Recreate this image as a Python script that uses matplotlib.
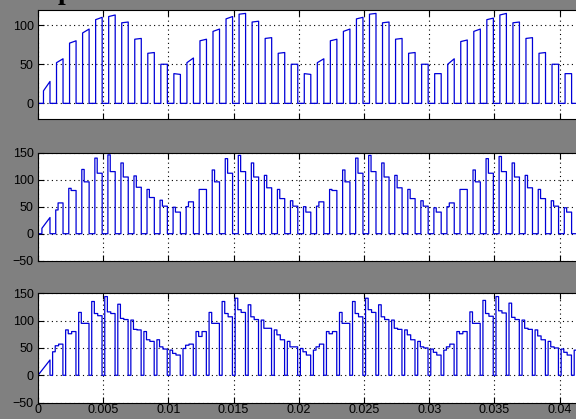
"""Three scope traces of a PWM output (top: flat pulses, middle/bottom: stepped pulses)."""

import matplotlib

matplotlib.use("Agg")
import matplotlib.pyplot as plt
import numpy as np

plt.rcParams["font.family"] = ["Liberation Sans", "DejaVu Sans"]

# switching slots (1 ms each), slot 0 is the start-up transient
slots = list(range(1, 42))

# top trace: pulse level at start and end of each pulse, slots 1..41
top_a = [52, 77, 90, 107, 111, 103, 82, 64, 50,
         38, 52, 80, 92, 108, 114, 104, 83, 64, 50,
         38, 52, 80, 92, 108, 114, 103, 82, 64, 50,
         38, 50, 79, 92, 107, 113, 103, 83, 64, 50,
         38, 52]
top_b = [57, 80, 95, 110, 113, 104, 83, 65, 50,
         37, 58, 82, 95, 111, 115, 105, 84, 65, 50,
         37, 57, 82, 95, 110, 115, 104, 83, 65, 50,
         38, 57, 81, 95, 109, 115, 104, 84, 65, 50,
         38, 57]
top_t0 = [0.0, 0.42, 0.42, 0.92, 0.92]
top_v0 = [0, 0, 16, 28, 0]

# middle trace: first level, then level after the step
mid_h1 = [44, 84, 119, 140, 146, 131, 107, 82, 62,
          49, 50, 82, 118, 139, 145, 131, 108, 82, 61,
          50, 51, 82, 118, 140, 145, 131, 108, 82, 61,
          48, 50, 82, 118, 139, 143, 131, 108, 82, 61,
          48, 50]
mid_h2 = [57, 80, 96, 112, 115, 105, 86, 67, 51,
          40, 59, 82, 96, 112, 115, 105, 85, 65, 51,
          40, 59, 80, 96, 112, 115, 105, 85, 65, 51,
          40, 57, 82, 96, 112, 115, 105, 85, 65, 51,
          40, 57]
mid_t0 = [0.0, 0.3, 0.3, 0.92, 0.92]
mid_v0 = [0, 0, 10, 30, 0]

# bottom trace: three levels inside each pulse
bot_h1 = [43, 83, 115, 135, 144, 130, 101, 80, 65,
          46, 49, 80, 115, 135, 141, 129, 101, 83, 62,
          49, 46, 80, 115, 135, 141, 129, 101, 83, 62,
          48, 46, 80, 116, 137, 144, 132, 101, 83, 62,
          48, 46]
bot_h2 = [54, 76, 95, 113, 116, 104, 84, 65, 52,
          40, 55, 71, 95, 113, 120, 107, 86, 74, 52,
          43, 52, 76, 95, 113, 120, 107, 86, 74, 52,
          42, 52, 76, 95, 113, 118, 106, 86, 72, 52,
          42, 52]
bot_h3 = [57, 80, 95, 109, 113, 102, 83, 62, 48,
          37, 57, 80, 95, 107, 115, 102, 86, 65, 52,
          37, 57, 80, 95, 107, 115, 102, 84, 65, 50,
          37, 57, 80, 95, 108, 114, 102, 84, 65, 50,
          37, 57]
bot_t0 = [0.0, 0.92, 0.92]
bot_v0 = [0, 28, 0]

x_ticks = [0, 0.005, 0.01, 0.015, 0.02, 0.025, 0.03, 0.035, 0.04]
x_labels = ["0", "0.005", "0.01", "0.015", "0.02", "0.025", "0.03", "0.035", "0.04"]
top_yticks = [0, 50, 100]
low_yticks = [-50, 0, 50, 100, 150]


def stepped(t0, v0, edges, levels):
    """edges: offsets in a slot (ms); levels: per segment (start, end) values."""
    t, v = list(t0), list(v0)
    for i, k in enumerate(slots):
        t.append(k + edges[0])
        v.append(0)
        for j, (a, b) in enumerate(levels[i]):
            t += [k + edges[j], k + edges[j + 1]]
            v += [a, b]
        t.append(k + edges[-1])
        v.append(0)
    return np.array(t) / 1000.0, np.array(v)


t_top, v_top = stepped(top_t0, top_v0, [0.42, 0.92],
                       [[(a, b)] for a, b in zip(top_a, top_b)])
t_mid, v_mid = stepped(mid_t0, mid_v0, [0.36, 0.54, 0.92],
                       [[(a, a), (b, b)] for a, b in zip(mid_h1, mid_h2)])
t_bot, v_bot = stepped(bot_t0, bot_v0, [0.12, 0.32, 0.58, 0.91],
                       [[(a, a), (b, b), (c, c)] for a, b, c in zip(bot_h1, bot_h2, bot_h3)])

W, H = 576, 419
fig = plt.figure(figsize=(W / 100, H / 100), dpi=100, facecolor="#808080")

px_per_s = 13040.0
left = 38
right = 620
xmax = (right - left) / px_per_s

panels = [
    (9.5, 119.0, t_top, v_top, (-20, 120), top_yticks),
    (152.7, 260.7, t_mid, v_mid, (-50, 150), low_yticks),
    (293.3, 402.6, t_bot, v_bot, (-50, 150), low_yticks),
]

axes = []
for i, (ytop, ybot, t, v, ylim, yt) in enumerate(panels):
    ax = fig.add_axes([left / W, 1 - ybot / H, (right - left) / W, (ybot - ytop) / H])
    ax.set_facecolor("white")
    ax.plot(t, v, color="#0000d8", lw=0.9)
    ax.set_xlim(0, xmax)
    ax.set_ylim(*ylim)
    ax.set_yticks(yt)
    ax.set_xticks(x_ticks)
    ax.grid(True, linestyle=(0, (1, 3)), color="black", lw=0.8)
    ax.tick_params(direction="in", length=4, top=True, right=True,
                   labelsize=9, pad=3, colors="black")
    for s in ax.spines.values():
        s.set_color("black")
        s.set_linewidth(0.8)
    if i < 2:
        ax.set_xticklabels([])
    else:
        ax.set_xticklabels(x_labels)
        ax.tick_params(axis="x", pad=1)
    axes.append(ax)

# clipped title fragment at the very top
fig.text(58 / W, 1 + 1.5 / H, "p", fontsize=20, fontweight="bold",
         family="Liberation Serif", va="baseline", ha="left", color="black")

fig.savefig("out.png", dpi=100, facecolor=fig.get_facecolor())
